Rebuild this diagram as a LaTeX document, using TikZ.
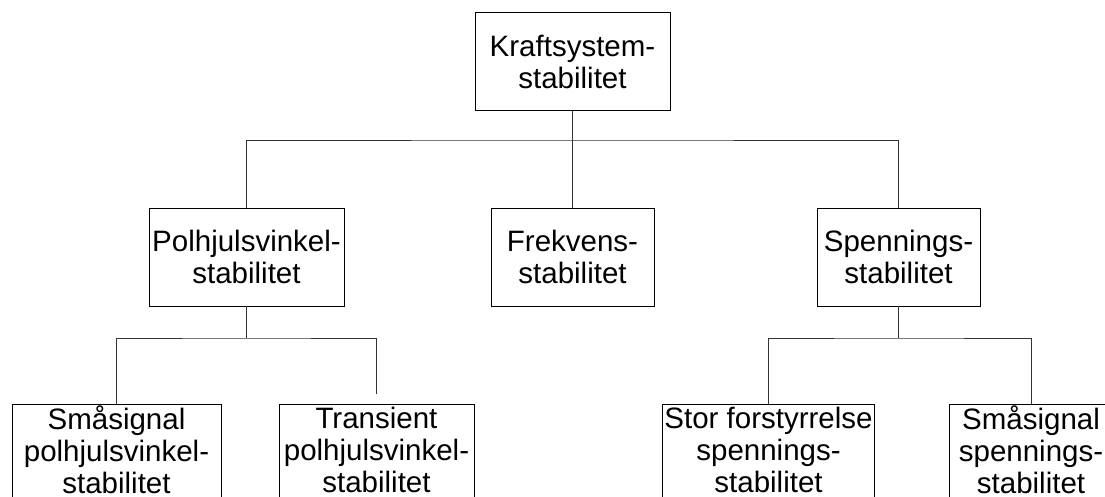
\documentclass[tikz,border=0pt]{standalone}
\usepackage{fontspec}
\setmainfont{Liberation Sans}
\usepackage{tikz}
\usetikzlibrary{positioning, calc}
\tikzset{
    stabBox/.style={draw=black, line width=0.9pt, fill=white, align=center, inner xsep=2pt, inner ysep=3pt, font=\fontsize{29.5}{32}\selectfont},
    treeLine/.style={draw=black!80, line width=0.9pt}
}

\begin{document}
\begin{tikzpicture}[x=1pt, y=-1pt]

        % --- Frame (size of the page) ---
        \useasboundingbox (0,0) rectangle (1105,497);
        \clip (0,0) rectangle (1105,497);

        % --- Styles ---
        \tikzset{
            midBox/.style={stabBox, minimum height=98pt},
            lowBox/.style={stabBox, anchor=north, text depth=12pt}
        }

        % --- Nodes (Top) ---
        \node[midBox, minimum width=195pt] (kraft) at (572.5,61.5) {Kraftsystem-\\stabilitet};

        % --- Nodes (Middle) ---
        \node[midBox, minimum width=195pt] (polVinkel) at (246.5,257) {Polhjulsvinkel-\\stabilitet};
        \node[midBox, minimum width=163pt] (frekvens) at (572.5,257) {Frekvens-\\stabilitet};
        \node[midBox, minimum width=163pt] (spenning) at (898.5,257) {Spennings-\\stabilitet};

        % --- Nodes (Bottom) ---
        % ring on the a sits higher, so less padding on top
        \node[lowBox, inner ysep=1pt, minimum width=209pt] (smaPol) at (116.5,404) {Småsignal\\polhjulsvinkel-\\stabilitet};
        \node[lowBox, minimum width=195pt] (tranPol) at (376.5,404) {Transient\\polhjulsvinkel-\\stabilitet};
        \node[lowBox, minimum width=211pt] (storSpen) at (768.5,404) {Stor forstyrrelse\\spennings-\\stabilitet};
        \node[lowBox, inner ysep=1pt, minimum width=164pt] (smaSpen) at (1031,404) {Småsignal\\spennings-\\stabilitet};

        % --- Junctions ---
        \coordinate (barTop) at (572.5,140);
        \coordinate (barPol) at (246.5,338);
        \coordinate (barSpen) at (898.5,338);

        % 1. Top level
        \draw[treeLine] (kraft.south) -- (barTop);
        \draw[treeLine] (polVinkel.north) |- (barTop) -| (spenning.north);
        \draw[treeLine] (frekvens.north) -- (frekvens.north |- barTop);

        % 2. Polhjulsvinkel branch
        \draw[treeLine] (polVinkel.south) -- (barPol);
        \draw[treeLine, shorten >=10pt] (smaPol.north) |- (barPol) -| (tranPol.north);

        % 3. Spennings branch
        \draw[treeLine] (spenning.south) -- (barSpen);
        \draw[treeLine] (storSpen.north) |- (barSpen) -| (smaSpen.north);

\end{tikzpicture}
\end{document}
